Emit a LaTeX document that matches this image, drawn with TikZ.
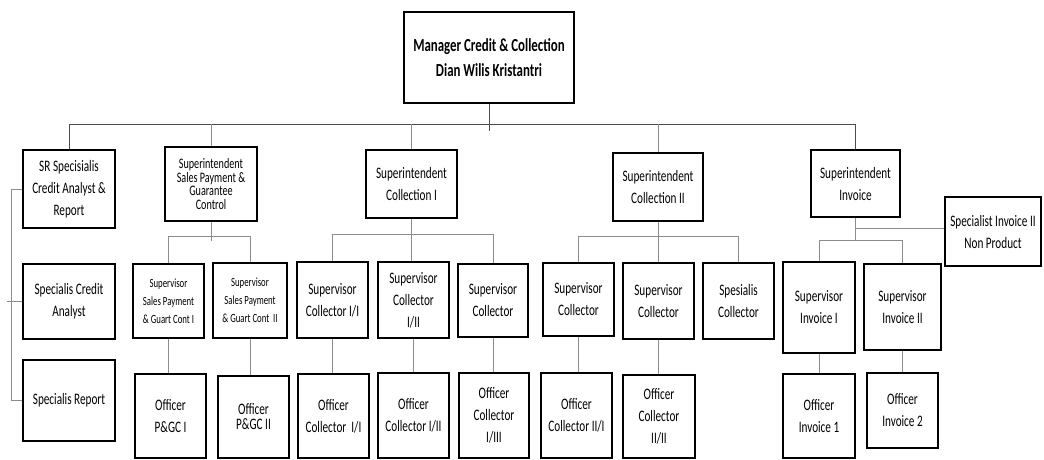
\documentclass[tikz,border=0pt]{standalone}
\usepackage{fontspec}
\setmainfont{Carlito}[FakeStretch=0.7]
\begin{document}
\begin{tikzpicture}[x=1pt,y=-1pt,
  box/.style={draw=black,line width=2.1pt,fill=white,inner sep=0pt,align=center,
    font=\fontsize{16}{22}\selectfont},
  smalltxt/.style={font=\fontsize{12.5}{18}\selectfont},
  tighttxt/.style={font=\fontsize{14.5}{13.6}\selectfont},
  bigtxt/.style={font=\fontsize{18.4}{25}\selectfont\bfseries},
  mainline/.style={draw=black!70,line width=1pt},
  subline/.style={draw=black!45,line width=0.9pt}]
\useasboundingbox (0,0) rectangle (1044,459);
\clip (0,0) rectangle (1044,459);
\fill[white] (0,0) rectangle (1044,459);
% top level
\node[box,bigtxt,minimum width=170,minimum height=91] (mgr) at (489,57.5) {Manager Credit \& Collection\\Dian Wilis Kristantri};
\node[box,minimum width=92,minimum height=78] (sr) at (69,189) {SR Specisialis\\Credit Analyst \&\\Report};
\node[box,minimum width=92,minimum height=75] (sca) at (69,301.5) {Specialis Credit\\Analyst};
\node[box,minimum width=92,minimum height=81] (srep) at (69,400.5) {Specialis Report};
\node[box,tighttxt,minimum width=92,minimum height=74] (sisp) at (211,184) {Superintendent\\Sales Payment \&\\Guarantee\\Control};
\node[box,minimum width=91,minimum height=68] (sic1) at (411.5,184) {Superintendent\\Collection I};
\node[box,minimum width=90,minimum height=68] (sic2) at (658,187) {Superintendent\\Collection II};
\node[box,minimum width=89,minimum height=67] (siinv) at (855.5,183.5) {Superintendent\\Invoice};
\node[box,minimum width=96,minimum height=69] (sinp) at (993,231.5) {Specialist Invoice II\\Non Product};
% supervisors
\node[box,smalltxt,minimum width=71,minimum height=74] (spv1) at (168.5,301) {Supervisor\\Sales Payment\\\& Guart Cont I};
\node[box,smalltxt,minimum width=74,minimum height=75] (spv2) at (250,300.5) {Supervisor\\Sales Payment\\\& Guart Cont~~II};
\node[box,minimum width=71,minimum height=76] (sc11) at (332.5,300) {Supervisor\\Collector I/I};
\node[box,minimum width=71,minimum height=76] (sc12) at (413.5,300) {Supervisor\\Collector\\I/II};
\node[box,minimum width=70,minimum height=73] (sc13) at (493,300.5) {Supervisor\\Collector};
\node[box,minimum width=71,minimum height=73] (sc21) at (578.5,299.5) {Supervisor\\Collector};
\node[box,minimum width=71,minimum height=76] (sc22) at (658.5,301) {Supervisor\\Collector};
\node[box,minimum width=71,minimum height=76] (spc) at (738.5,301) {Spesialis\\Collector};
\node[box,minimum width=72,minimum height=91] (svi1) at (819,307.5) {Supervisor\\Invoice I};
\node[box,minimum width=77,minimum height=86] (svi2) at (902.5,307) {Supervisor\\Invoice II};
% officers
\node[box,minimum width=71,minimum height=84] (op1) at (170.5,416) {Officer\\P\&GC I};
\node[box,font=\fontsize{16}{15}\selectfont,minimum width=71,minimum height=82] (op2) at (253.5,417) {Officer\\P\&GC II};
\node[box,minimum width=71,minimum height=84] (oc11) at (333.5,416) {Officer\\Collector~~I/I};
\node[box,minimum width=71,minimum height=85] (oc12) at (413.5,415.5) {Officer\\Collector I/II};
\node[box,minimum width=70,minimum height=85] (oc13) at (494,415.5) {Officer\\Collector\\I/III};
\node[box,minimum width=71,minimum height=85] (oc21) at (576.5,415.5) {Officer\\Collector II/I};
\node[box,minimum width=72,minimum height=83] (oc22) at (659,416.5) {Officer\\Collector\\II/II};
\node[box,minimum width=72,minimum height=84] (oi1) at (819,416) {Officer\\Invoice 1};
\node[box,minimum width=71,minimum height=75] (oi2) at (902.5,410.5) {Officer\\Invoice 2};
% connectors
\coordinate (bus) at (0,124);
\draw[mainline] (mgr.south) -- ++(0,27);
\draw[mainline] (sr.north) -- (sr.north |- bus) -| (siinv.north);
\draw[subline] (sisp.north) -- (sisp.north |- bus);
\draw[subline] (sic1.north) -- (sic1.north |- bus);
\draw[subline] (sic2.north) -- (sic2.north |- bus);
% SR group
\draw[subline] (sr.west) -- ++(-11,0) |- (srep.west);
\draw[subline] (sca.west) -- ++(-15,0);
% sales payment group
\draw[subline] (sisp.south) -- ++(0,19);
\draw[subline] (spv1.north) -- ++(0,-27) -| (spv2.north);
\draw[subline] (spv1.south) -- (spv1.south |- op1.north);
\draw[subline] (spv2.south) -- (spv2.south |- op2.north);
% collection I group
\draw[subline] (sic1.south) -- (sic1.south |- sc12.north);
\draw[subline] (sc11.north) -- ++(0,-27) -| (sc13.north);
\draw[subline] (sc11.south) -- (sc11.south |- oc11.north);
\draw[subline] (sc12.south) -- (sc12.south |- oc12.north);
\draw[subline] (sc13.south) -- (sc13.south |- oc13.north);
% collection II group
\draw[subline] (sic2.south) -- (sic2.south |- sc22.north);
\draw[subline] (sc21.north) -- ++(0,-26) -| (spc.north);
\draw[subline] (sc21.south) -- (sc21.south |- oc21.north);
\draw[subline] (sc22.south) -- (sc22.south |- oc22.north);
% invoice group
\draw[subline] (siinv.south) -- ++(0,23);
\draw[subline] (siinv.south) ++(0,10) coordinate (j) -- (j -| sinp.west);
\draw[subline] (svi1.north) -- ++(0,-21) -| (svi2.north);
\draw[subline] (svi1.south) -- (svi1.south |- oi1.north);
\draw[subline] (svi2.south) -- (svi2.south |- oi2.north);
\end{tikzpicture}
\end{document}
